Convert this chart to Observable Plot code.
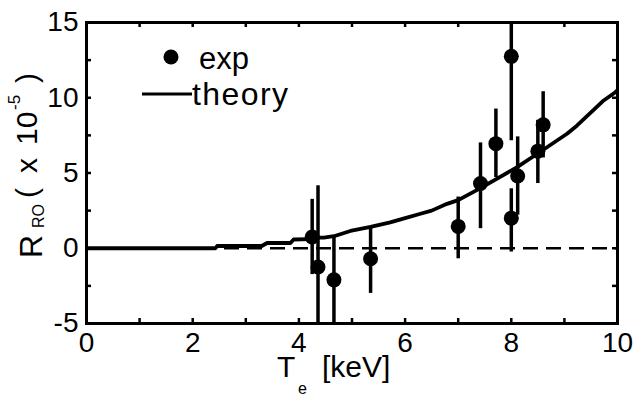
<!DOCTYPE html>
<html><head><meta charset="utf-8">
<script src="https://cdn.jsdelivr.net/npm/d3@7"></script>
<script src="https://cdn.jsdelivr.net/npm/@observablehq/plot@0.6"></script>
<style>body{margin:0;background:#fff;} svg{display:block}</style>
</head><body><div id="chart"></div>
<script>
// experimental points: Te [keV], R_RO (x1e-5), error bar low/high
const expTe = [4.25, 4.36, 4.66, 5.35, 7.0, 7.42, 7.71, 8.0, 8.0, 8.12, 8.5, 8.6];
const expR  = [0.75, -1.25, -2.1, -0.7, 1.45, 4.3, 6.95, 12.75, 2.0, 4.8, 6.45, 8.2];
const expLo = [-1.75, -6.65, -4.95, -3.0, -0.7, 1.3, 4.7, 7.15, -0.25, 2.2, 4.3, 6.0];
const expHi = [3.25, 4.15, 0.75, 1.45, 3.4, 7.0, 9.25, 18.3, 3.95, 7.4, 8.5, 10.4];
// theory curve
const theoryTe = [0, 2.43, 2.46, 3.3, 3.4, 3.84, 3.9, 4.2, 4.3, 4.47, 4.66, 4.97, 5.35, 5.72, 6.0, 6.29, 6.5, 6.79, 7.0, 7.42, 8.11, 8.49, 9.05, 9.24, 9.74, 9.96, 10];
const theoryR  = [0, 0, 0.15, 0.15, 0.35, 0.35, 0.58, 0.6, 0.7, 0.7, 0.8, 1.15, 1.42, 1.72, 2.0, 2.29, 2.5, 2.95, 3.2, 4.0, 5.39, 6.28, 7.61, 8.16, 9.82, 10.37, 10.5];
// ticks
const xTickLabels = [0, 2, 4, 6, 8, 10];
const yTickLabels = [-5, 0, 5, 10, 15];
const xMinorTicks = [1, 2, 3, 4, 5, 6, 7, 8, 9];
const yMinorTicks = [-2.5, 0, 2.5, 5, 7.5, 10, 12.5];

const W = 639, H = 396, mL = 86, mR = 22, mT = 22, mB = 73;
const pw = W - mL - mR, ph = H - mT - mB;
const font = "'Liberation Sans', Arial, Helvetica, sans-serif";
const exp = expTe.map((t, i) => ({te: t, r: expR[i], lo: expLo[i], hi: expHi[i]}));
const theory = theoryTe.map((t, i) => ({te: t, r: theoryR[i]}));

const plot = Plot.plot({
  width: W, height: H, marginLeft: mL, marginRight: mR, marginTop: mT, marginBottom: mB,
  style: {fontFamily: font, background: "white", color: "black"},
  x: {domain: [0, 10]},
  y: {domain: [-5, 15]},
  marks: [
    Plot.ruleY([0], {strokeDasharray: "15,8", strokeWidth: 2.5}),
    Plot.line(theory, {x: "te", y: "r", strokeWidth: 3.8, clip: true}),
    Plot.ruleX(exp, {x: "te", y1: "lo", y2: "hi", strokeWidth: 3.5, clip: true}),
    Plot.dot(exp, {x: "te", y: "r", r: 7.5, fill: "black", stroke: "none"}),
    Plot.tickX(xMinorTicks, {x: d => d, insetTop: ph - 5, strokeWidth: 2.5}),
    Plot.tickX(xMinorTicks, {x: d => d, insetBottom: ph - 5, strokeWidth: 2.5}),
    Plot.tickY(yMinorTicks, {y: d => d, insetRight: pw - 5, strokeWidth: 2.5}),
    Plot.tickY(yMinorTicks, {y: d => d, insetLeft: pw - 5, strokeWidth: 2.5}),
    Plot.frame({strokeWidth: 3}),
    Plot.axisX(xTickLabels, {tickSize: 0, tickPadding: 9, fontSize: 28, label: null, tickFormat: d => String(d)}),
    Plot.axisY(yTickLabels, {tickSize: 0, tickPadding: 8, fontSize: 28, label: null, tickFormat: d => String(d)})
  ]
});
document.getElementById("chart").appendChild(plot);

const svg = d3.select(plot);
const g = svg.append("g").attr("font-family", font).attr("fill", "black").attr("text-anchor", "start");
// legend
g.append("circle").attr("cx", 171).attr("cy", 57).attr("r", 7.5);
g.append("text").attr("x", 199).attr("y", 69).attr("font-size", 31).text("exp");
g.append("line").attr("x1", 142).attr("x2", 192).attr("y1", 94).attr("y2", 94).attr("stroke", "black").attr("stroke-width", 3);
g.append("text").attr("x", 192).attr("y", 105).attr("font-size", 32).attr("textLength", 96).text("theory");
// y title (rotated)
function vtext(str, bx, sy, size) {
  g.append("text").attr("transform", `translate(${bx},${sy}) rotate(-90)`).attr("font-size", size).text(str);
}
vtext("R", 42, 258, 32);
vtext("RO", 44, 228, 16);
vtext("(", 37, 198, 30);
vtext("x", 37, 173, 30);
vtext("10", 37, 145, 30);
vtext("-5", 20, 110, 17);
vtext(")", 37, 83, 30);
// x title
g.append("text").attr("x", 277).attr("y", 377).attr("font-size", 30).text("T");
g.append("text").attr("x", 298).attr("y", 394).attr("font-size", 16).text("e");
g.append("text").attr("x", 322).attr("y", 377).attr("font-size", 30).text("[keV]");
</script>
</body></html>
